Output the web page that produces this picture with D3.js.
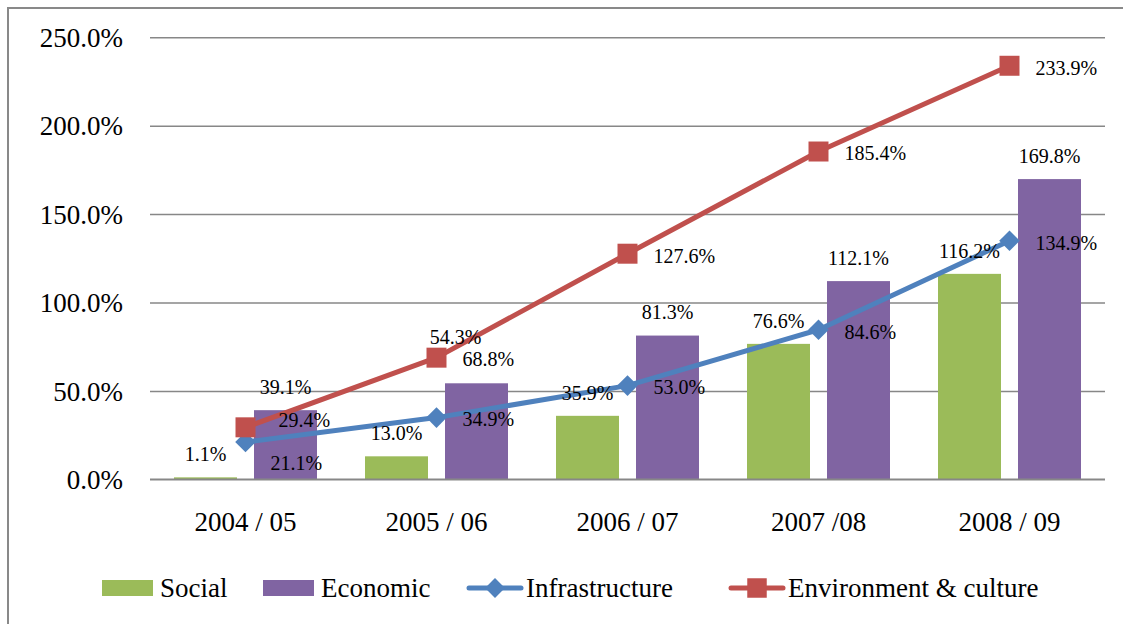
<!DOCTYPE html>
<html>
<head>
<meta charset="utf-8">
<script src="https://cdn.jsdelivr.net/npm/d3@7"></script>
<style>
  body { margin: 0; background: #fff; }
  svg text { font-family: "Liberation Serif", "DejaVu Serif", serif; fill: #000; }
</style>
</head>
<body>
<svg id="chart" width="1123" height="624"></svg>
<script>
// Data
var categories = ["2004 / 05", "2005 / 06", "2006 / 07", "2007 /08", "2008 / 09"];
var social = [1.1, 13.0, 35.9, 76.6, 116.2];
var economic = [39.1, 54.3, 81.3, 112.1, 169.8];
var infrastructure = [21.1, 34.9, 53.0, 84.6, 134.9];
var environment = [29.4, 68.8, 127.6, 185.4, 233.9];
var yTicks = [0, 50, 100, 150, 200, 250];

var colors = {
    social: "#9BBB59",
    economic: "#8064A2",
    infrastructure: "#4F81BD",
    environment: "#C0504D"
};

// Hand-moved labels in the original (dx, dy)
var labelNudge = {
    "economic-1": [-21, -23],
    "environment-0": [7, -9],
    "infrastructure-0": [-1, 19]
};

var svg = d3.select("#chart");

// Chart frame (only top and left visible)
svg.append("rect")
    .attr("x", 8).attr("y", 8)
    .attr("width", 1200).attr("height", 700)
    .attr("fill", "none")
    .attr("stroke", "#898989")
    .attr("stroke-width", 2);

var plot = { left: 150, right: 1105, top: 37.3, bottom: 479.3 };

var x = d3.scaleBand()
    .domain(categories)
    .range([plot.left, plot.right]);

var xInner = d3.scaleBand()
    .domain(["social", "economic"])
    .range([0, x.bandwidth()])
    .paddingInner(0.2125)
    .paddingOuter(0.3);

var y = d3.scaleLinear()
    .domain([0, 250])
    .range([plot.bottom, plot.top]);

function fmt(v) { return v.toFixed(1) + "%"; }

// Gridlines + y labels
var yAxis = d3.axisLeft(y)
    .tickValues(yTicks)
    .tickFormat(fmt)
    .tickSize(-(plot.right - plot.left))
    .tickPadding(27);

var gy = svg.append("g")
    .attr("transform", "translate(" + plot.left + ",0)")
    .call(yAxis);
gy.select(".domain").remove();
gy.selectAll(".tick line").attr("stroke", "#878787").attr("stroke-width", 1.5);
gy.selectAll(".tick text")
    .style("font-size", "27px")
    .attr("dy", "0.34em");

// x labels
var xAxis = d3.axisBottom(x).tickSize(0).tickPadding(0);
var gx = svg.append("g")
    .attr("transform", "translate(0," + plot.bottom + ")")
    .call(xAxis);
gx.select(".domain").remove();
gx.selectAll(".tick text")
    .style("font-size", "27px")
    .attr("y", 43)
    .attr("dy", "0.34em");

// Bars
var barSeries = [
    { key: "social", values: social },
    { key: "economic", values: economic }
];

barSeries.forEach(function(s) {
    var g = svg.append("g").attr("class", s.key + "-bars");
    g.selectAll("rect")
        .data(s.values)
        .enter()
        .append("rect")
        .attr("x", function(d, i) { return x(categories[i]) + xInner(s.key); })
        .attr("width", xInner.bandwidth())
        .attr("y", function(d) { return y(d); })
        .attr("height", function(d) { return y(0) - y(d); })
        .attr("fill", colors[s.key]);
});

// 0% axis line drawn above bars
svg.append("line")
    .attr("x1", plot.left).attr("x2", plot.right)
    .attr("y1", plot.bottom).attr("y2", plot.bottom)
    .attr("stroke", "#878787").attr("stroke-width", 1.5);

// Lines
var lineSeries = [
    { key: "infrastructure", values: infrastructure, marker: "diamond" },
    { key: "environment", values: environment, marker: "square" }
];

var line = d3.line()
    .x(function(d, i) { return x(categories[i]) + x.bandwidth() / 2; })
    .y(function(d) { return y(d); });

lineSeries.forEach(function(s) {
    var g = svg.append("g").attr("class", s.key + "-line");
    g.append("path")
        .datum(s.values)
        .attr("d", line)
        .attr("fill", "none")
        .attr("stroke", colors[s.key])
        .attr("stroke-width", 5)
        .attr("stroke-linejoin", "round");

    var sym = s.marker == "diamond"
        ? d3.symbol().type(d3.symbolDiamond2).size(270)
        : d3.symbol().type(d3.symbolSquare).size(400);

    g.selectAll(".marker")
        .data(s.values)
        .enter()
        .append("path")
        .attr("class", "marker")
        .attr("d", sym)
        .attr("transform", function(d, i) {
            return "translate(" + (x(categories[i]) + x.bandwidth() / 2) + "," + y(d) + ")";
        })
        .attr("fill", colors[s.key]);
});

// Data labels
function nudge(key, i) { return labelNudge[key + "-" + i] || [0, 0]; }

barSeries.forEach(function(s) {
    svg.append("g").selectAll("text")
        .data(s.values)
        .enter()
        .append("text")
        .attr("x", function(d, i) {
            return x(categories[i]) + xInner(s.key) + xInner.bandwidth() / 2 + nudge(s.key, i)[0];
        })
        .attr("y", function(d, i) { return y(d) - 23 + nudge(s.key, i)[1]; })
        .attr("dy", "0.34em")
        .attr("text-anchor", "middle")
        .style("font-size", "20px")
        .text(fmt);
});

lineSeries.forEach(function(s) {
    svg.append("g").selectAll("text")
        .data(s.values)
        .enter()
        .append("text")
        .attr("x", function(d, i) {
            return x(categories[i]) + x.bandwidth() / 2 + 26 + nudge(s.key, i)[0];
        })
        .attr("y", function(d, i) { return y(d) + 2 + nudge(s.key, i)[1]; })
        .attr("dy", "0.34em")
        .style("font-size", "20px")
        .text(fmt);
});

// Legend
var legendItems = [
    { name: "Social", key: "social", type: "bar", x: 102 },
    { name: "Economic", key: "economic", type: "bar", x: 263 },
    { name: "Infrastructure", key: "infrastructure", type: "diamond", x: 468 },
    { name: "Environment & culture", key: "environment", type: "square", x: 730 }
];
var legendY = 588;

var legend = svg.append("g").attr("class", "legend");
legendItems.forEach(function(item) {
    var g = legend.append("g").attr("transform", "translate(" + item.x + "," + legendY + ")");
    if (item.type == "bar") {
        g.append("rect")
            .attr("x", 0).attr("y", -8)
            .attr("width", 51).attr("height", 16)
            .attr("fill", colors[item.key]);
    } else {
        g.append("line")
            .attr("x1", 1).attr("x2", 53)
            .attr("y1", 0).attr("y2", 0)
            .attr("stroke", colors[item.key])
            .attr("stroke-width", 5)
            .attr("stroke-linecap", "round");
        var sym = item.type == "diamond"
            ? d3.symbol().type(d3.symbolDiamond2).size(250)
            : d3.symbol().type(d3.symbolSquare).size(380);
        g.append("path")
            .attr("d", sym)
            .attr("transform", "translate(27,0)")
            .attr("fill", colors[item.key]);
    }
    g.append("text")
        .attr("x", 58)
        .attr("y", 0)
        .attr("dy", "0.34em")
        .style("font-size", "27px")
        .text(item.name);
});
</script>
</body>
</html>
